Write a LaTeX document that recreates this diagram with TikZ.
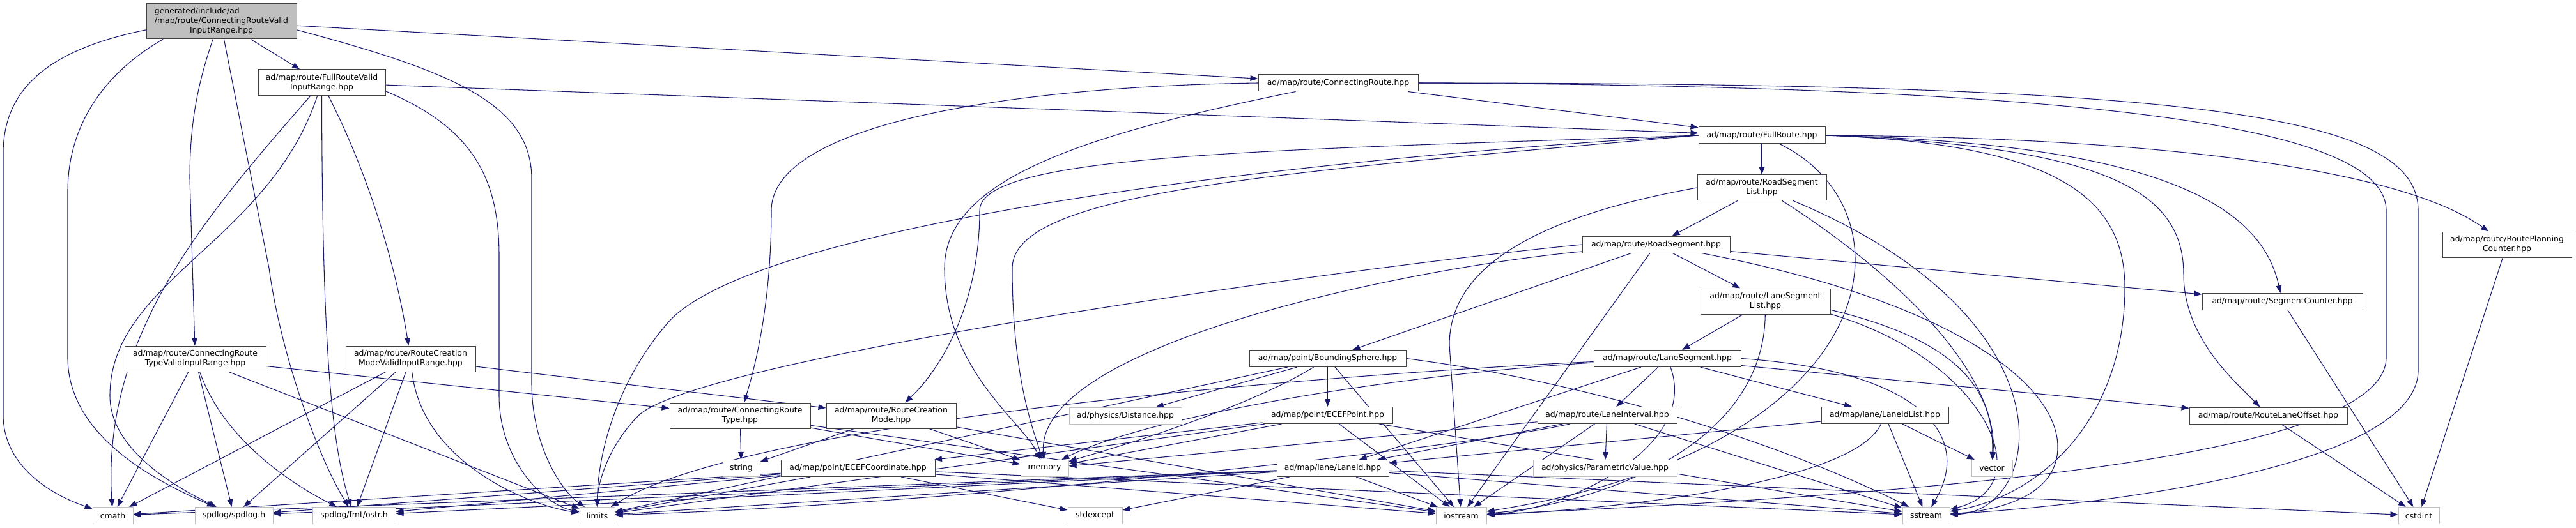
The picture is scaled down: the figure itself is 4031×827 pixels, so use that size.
\documentclass[tikz,border=0pt]{standalone}
\usepackage{fontspec}
\setmainfont{DejaVu Sans}
\usepackage{xcolor}
\usepackage{tikz}
\usetikzlibrary{arrows.meta}
\definecolor{depblue}{RGB}{25,25,112}
\pgfdeclarelayer{background}
\pgfsetlayers{background,main}

\begin{document}
\begin{tikzpicture}[x=0.75pt, y=-0.75pt, >={Triangle[length=9pt,width=6.5pt]},
    every node/.style={font=\fontsize{9.3}{11.3}\selectfont, inner sep=1pt, align=center},
    sz/.style 2 args={minimum width=#1*0.75pt, minimum height=#2*0.75pt},
    docfile/.style={draw=black!75, fill=white, line width=0.75pt},
    extfile/.style={draw=black!25, fill=white, line width=0.75pt},
    rootfile/.style={draw=black!75, fill=black!25, line width=0.75pt},
    dep/.style={->, draw=depblue, line width=0.8pt}]
    \useasboundingbox (0,0) rectangle (4031,827);

    % 1. The file itself
    \node[rootfile, sz={235}{55}] (root) at (346.5,33.5)
        {\begin{tabular}{@{}l@{}}generated/include/ad\\/map/route/ConnectingRouteValid\\\multicolumn{1}{@{}c@{}}{InputRange.hpp}\end{tabular}};

    % 2. Documented headers
    \node[docfile, sz={199}{41}] (frvir) at (503.5,129.5) {ad/map/route/FullRouteValid\\InputRange.hpp};
    \node[docfile, sz={221}{40}] (crtvir) at (305.5,562) {ad/map/route/ConnectingRoute\\TypeValidInputRange.hpp};
    \node[docfile, sz={203}{40}] (rcmvir) at (642.5,562) {ad/map/route/RouteCreation\\ModeValidInputRange.hpp};
    \node[docfile, sz={250}{26}] (conroute) at (2094,130) {ad/map/route/ConnectingRoute.hpp};
    \node[docfile, sz={198}{26}] (fullroute) at (2757,212) {ad/map/route/FullRoute.hpp};
    \node[docfile, sz={202}{40}] (rsl) at (2757,294) {ad/map/route/RoadSegment\\List.hpp};
    \node[docfile, sz={231}{26}] (roadseg) at (2591.5,383) {ad/map/route/RoadSegment.hpp};
    \node[docfile, sz={202}{40}] (rpc) at (3923,383) {ad/map/route/RoutePlanning\\Counter.hpp};
    \node[docfile, sz={203}{40}] (lsl) at (2762.5,472) {ad/map/route/LaneSegment\\List.hpp};
    \node[docfile, sz={251}{26}] (segcnt) at (3571.5,472.5) {ad/map/route/SegmentCounter.hpp};
    \node[docfile, sz={245}{26}] (bsphere) at (2077.5,561.5) {ad/map/point/BoundingSphere.hpp};
    \node[docfile, sz={230}{26}] (laneseg) at (2609,561.5) {ad/map/route/LaneSegment.hpp};
    \node[docfile, sz={220}{40}] (crtype) at (1158,651) {ad/map/route/ConnectingRoute\\Type.hpp};
    \node[docfile, sz={203}{40}] (rcmode) at (1394.5,651) {ad/map/route/RouteCreation\\Mode.hpp};
    \node[docfile, sz={203}{26}] (ecefpt) at (2077.5,650.5) {ad/map/point/ECEFPoint.hpp};
    \node[docfile, sz={218}{26}] (laneint) at (2515,650.5) {ad/map/route/LaneInterval.hpp};
    \node[docfile, sz={199}{26}] (laneidlist) at (2949.5,650.5) {ad/map/lane/LaneIdList.hpp};
    \node[docfile, sz={247}{26}] (rlo) at (3549.5,651) {ad/map/route/RouteLaneOffset.hpp};
    \node[docfile, sz={241}{26}] (ecefc) at (1342.5,733.5) {ad/map/point/ECEFCoordinate.hpp};
    \node[docfile, sz={175}{26}] (laneid) at (2085.5,733.5) {ad/map/lane/LaneId.hpp};

    % 3. Headers without own graph
    \node[extfile, sz={176}{26}] (distance) at (1761,651) {ad/physics/Distance.hpp};
    \node[extfile, sz={58}{26}] (strng) at (1160,733.5) {string};
    \node[extfile, sz={75}{26}] (memory) at (1634.5,733.5) {memory};
    \node[extfile, sz={225}{26}] (paramval) at (2511.5,733.5) {ad/physics/ParametricValue.hpp};
    \node[extfile, sz={64}{26}] (vector) at (3117,733.5) {vector};
    \node[extfile, sz={63}{26}] (cmath) at (176.5,807.5) {cmath};
    \node[extfile, sz={122}{26}] (spdlog) at (366,807.5) {spdlog/spdlog.h};
    \node[extfile, sz={130}{26}] (ostr) at (554,807.5) {spdlog/fmt/ostr.h};
    \node[extfile, sz={55}{26}] (limits) at (934.5,807.5) {limits};
    \node[extfile, sz={85}{26}] (stdexcept) at (1713.5,807.5) {stdexcept};
    \node[extfile, sz={79}{26}] (iostream) at (2286.5,807.5) {iostream};
    \node[extfile, sz={74}{26}] (sstream) at (3014,807.5) {sstream};
    \node[extfile, sz={64}{26}] (cstdint) at (3785,807.5) {cstdint};

    \begin{pgfonlayer}{background}
    \fill[white] (0,0) rectangle (4031,827);

    % 4. Includes of the file itself
    \draw[dep] ([yshift=-10pt]root.west) .. controls (90,75) and (5,130) .. (5,240) -- (5,650)
        .. controls (5,730) and (80,775) .. (cmath);
    \draw[dep] ([xshift=20pt]root.south west) .. controls (170,110) and (106,190) .. (106,300) -- (106,560)
        .. controls (106,690) and (260,760) .. (spdlog);
    \draw[dep] ([xshift=-10pt]root.south) .. controls (310,130) and (297,190) .. (297,280) -- (crtvir);
    \draw[dep] ([xshift=3pt]root.south) -- (421,420) .. controls (440,560) and (500,720) .. (ostr);
    \draw[dep] (root) -- (frvir);
    \draw[dep] ([yshift=-10pt]root.east) .. controls (700,110) and (832,160) .. (832,280) -- (832,600)
        .. controls (832,700) and (880,770) .. (limits);
    \draw[dep] ([yshift=-5pt]root.east) -- (conroute);

    % 5. FullRouteValidInputRange
    \draw[dep] (frvir) .. controls (330,330) and (158,520) .. (cmath);
    \draw[dep] (frvir) .. controls (420,380) and (172,440) .. (172,620)
        .. controls (172,710) and (290,770) .. (spdlog);
    \draw[dep] (frvir) .. controls (504,550) and (520,700) .. (ostr);
    \draw[dep] (frvir) .. controls (590,300) and (625,450) .. (rcmvir);
    \draw[dep] ([yshift=-10pt]frvir.east) .. controls (740,200) and (781,280) .. (781,400) -- (781,620)
        .. controls (781,720) and (850,790) .. (limits);
    \draw[dep] (frvir) -- (fullroute);

    % 6. The two ValidInputRange headers below
    \draw[dep] (crtvir) -- (cmath);
    \draw[dep] (crtvir) -- (spdlog);
    \draw[dep] (crtvir) .. controls (350,690) and (460,760) .. (ostr);
    \draw[dep] (crtvir) -- (limits);
    \draw[dep] (crtvir) -- (crtype);
    \draw[dep] (rcmvir) -- (cmath);
    \draw[dep] (rcmvir) -- (spdlog);
    \draw[dep] (rcmvir) -- (ostr);
    \draw[dep] (rcmvir) .. controls (660,720) and (820,790) .. (limits);
    \draw[dep] (rcmvir) -- (rcmode);

    % 7. ConnectingRoute
    \draw[dep] (conroute) -- (fullroute);
    \draw[dep] (conroute.west) .. controls (1600,135) and (1207,190) .. (1207,330)
        .. controls (1207,480) and (1180,580) .. (crtype);
    \draw[dep] (conroute) .. controls (1700,210) and (1478,280) .. (1478,420)
        .. controls (1478,580) and (1600,660) .. (memory);
    \draw[dep] (conroute.east) .. controls (3300,135) and (3734,200) .. (3734,330) -- (3734,560)
        .. controls (3734,720) and (3000,775) .. (iostream);
    \draw[dep] (conroute.east) .. controls (3450,130) and (3784,180) .. (3784,330) -- (3784,580)
        .. controls (3784,730) and (3300,790) .. (sstream);

    % 8. FullRoute
    \draw[dep] (fullroute) -- (rsl);
    \draw[dep] (fullroute.west) .. controls (2000,235) and (1533,240) .. (1533,330)
        .. controls (1533,480) and (1470,580) .. (rcmode);
    \draw[dep] (fullroute.west) .. controls (2000,250) and (1200,350) .. (1050,500)
        .. controls (960,600) and (935,720) .. (limits);
    \draw[dep] (fullroute.west) .. controls (2000,270) and (1584,300) .. (1584,420)
        .. controls (1584,600) and (1620,680) .. (memory);
    \draw[dep] (fullroute) .. controls (3000,330) and (2960,700) .. (iostream);
    \draw[dep] (fullroute.east) .. controls (3200,225) and (3325,300) .. (3325,450)
        .. controls (3325,650) and (3200,775) .. (sstream);
    \draw[dep] (fullroute.east) .. controls (3300,230) and (3417,300) .. (3417,430)
        .. controls (3417,530) and (3500,600) .. (rlo);
    \draw[dep] (fullroute.east) .. controls (3400,225) and (3540,330) .. (segcnt);
    \draw[dep] (fullroute.east) .. controls (3350,215) and (3750,260) .. (rpc);

    % 9. Road segments
    \draw[dep] (rsl) -- (roadseg);
    \draw[dep] (rsl.west) .. controls (2400,340) and (2268,420) .. (2268,540) -- (iostream);
    \draw[dep] (rsl) .. controls (3000,450) and (3127,600) .. (vector);
    \draw[dep] (rsl) .. controls (3250,500) and (3200,800) .. (sstream);
    \draw[dep] (roadseg.west) .. controls (2100,420) and (1100,560) .. (1000,650)
        .. controls (950,700) and (935,760) .. (limits);
    \draw[dep] (roadseg) .. controls (2200,420) and (1620,540) .. (memory);
    \draw[dep] (roadseg) -- (bsphere);
    \draw[dep] (roadseg) -- (iostream);
    \draw[dep] (roadseg) -- (lsl);
    \draw[dep] (roadseg) .. controls (3050,470) and (3220,600) .. (3220,700)
        .. controls (3220,780) and (3120,800) .. (sstream);
    \draw[dep] (roadseg) -- (segcnt);

    % 10. Lane segments
    \draw[dep] (lsl) -- (laneseg);
    \draw[dep] (lsl) .. controls (2760,700) and (2500,790) .. (iostream);
    \draw[dep] ([yshift=-10pt]lsl.east) .. controls (3050,530) and (3121,600) .. (vector);
    \draw[dep] ([yshift=-15pt]lsl.east) .. controls (3100,560) and (3200,760) .. (sstream);
    \draw[dep] (laneseg) .. controls (2300,575) and (1200,640) .. (limits);
    \draw[dep] (laneseg) .. controls (2200,585) and (1800,650) .. (memory);
    \draw[dep] (laneseg) -- (laneid);
    \draw[dep] (laneseg) -- (laneint);
    \draw[dep] (laneseg) .. controls (2660,700) and (2450,800) .. (iostream);
    \draw[dep] (laneseg) -- (laneidlist);
    \draw[dep] (laneseg.east) .. controls (3000,580) and (3090,680) .. (sstream);
    \draw[dep] (laneseg) -- (rlo);

    % 11. Bounding sphere and points
    \draw[dep] (bsphere) -- (ecefpt);
    \draw[dep] (bsphere) -- (distance);
    \draw[dep] (bsphere) .. controls (1950,640) and (1750,700) .. (memory);
    \draw[dep] (bsphere) -- (limits);
    \draw[dep] (bsphere) -- (iostream);
    \draw[dep] (bsphere.east) .. controls (2500,600) and (2800,700) .. (sstream);
    \draw[dep] (ecefpt) -- (ecefc);
    \draw[dep] (ecefpt) -- (memory);
    \draw[dep] (ecefpt) -- (limits);
    \draw[dep] (ecefpt) -- (iostream);
    \draw[dep] (ecefpt) -- (sstream);

    % 12. Lane interval, lane ids
    \draw[dep] (laneint) .. controls (2300,700) and (1500,790) .. (limits);
    \draw[dep] (laneint) -- (memory);
    \draw[dep] (laneint) -- (laneid);
    \draw[dep] (laneint) -- (iostream);
    \draw[dep] (laneint) -- (paramval);
    \draw[dep] (laneint) -- (sstream);
    \draw[dep] (laneidlist) -- (laneid);
    \draw[dep] (laneidlist) .. controls (2900,760) and (2500,800) .. (iostream);
    \draw[dep] (laneidlist) -- (sstream);
    \draw[dep] (laneidlist) -- (vector);
    \foreach \t in {cmath,spdlog,ostr,limits,stdexcept,iostream,sstream}
        \draw[dep] (ecefc) -- (\t);
    \foreach \t in {cmath,spdlog,ostr,limits,stdexcept,iostream,sstream,cstdint}
        \draw[dep] (laneid) -- (\t);

    % 13. Enums and counters
    \draw[dep] (crtype) -- (strng);
    \draw[dep] (crtype) -- (memory);
    \draw[dep] (crtype) -- (iostream);
    \draw[dep] (rcmode) -- (strng);
    \draw[dep] (rcmode) -- (memory);
    \draw[dep] (rcmode) -- (iostream);
    \draw[dep] (segcnt) -- (cstdint);
    \draw[dep] (rpc) -- (cstdint);
    \draw[dep] (rlo) -- (cstdint);
    \end{pgfonlayer}
\end{tikzpicture}
\end{document}
